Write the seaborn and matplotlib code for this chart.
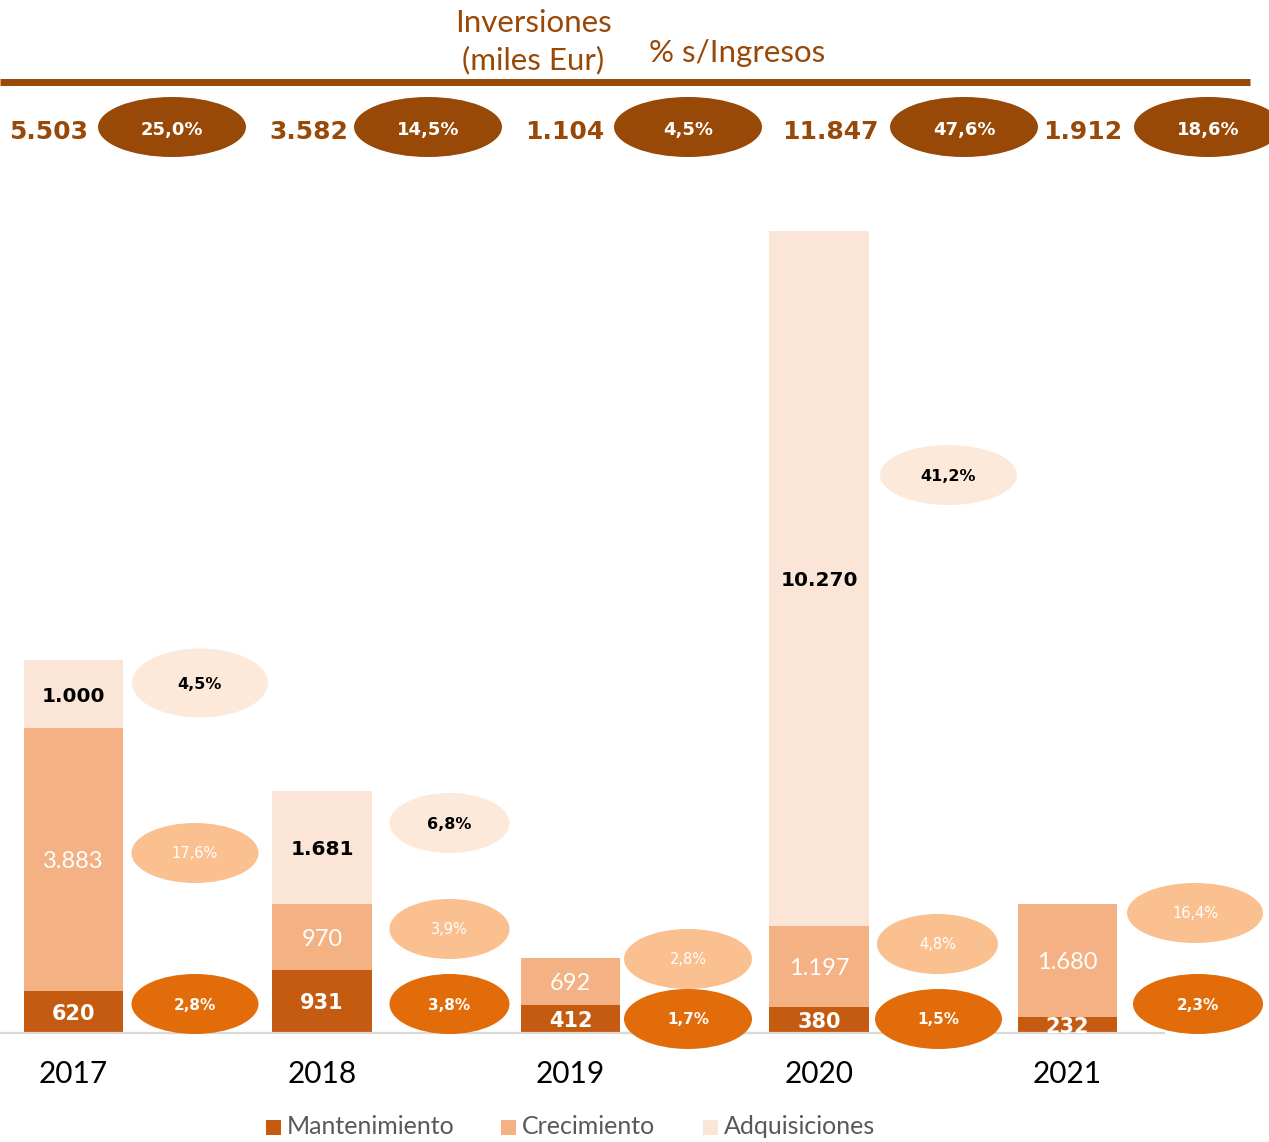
import matplotlib
matplotlib.use("Agg")
import matplotlib.pyplot as plt
import seaborn as sns
import pandas as pd
from matplotlib.patches import Ellipse, Rectangle
from matplotlib.lines import Line2D
from matplotlib import font_manager as fm

# ---------------- data ----------------
years = ["2017", "2018", "2019", "2020", "2021"]
mantenimiento = [620, 931, 412, 380, 232]
crecimiento = [3883, 970, 692, 1197, 1680]
adquisiciones = [1000, 1681, 0, 10270, 0]
pct_total = [25.0, 14.5, 4.5, 47.6, 18.6]
pct_mant = [2.8, 3.8, 1.7, 1.5, 2.3]
pct_crec = [17.6, 3.9, 2.8, 4.8, 16.4]
pct_adq = [4.5, 6.8, None, 41.2, None]
series_names = ["Mantenimiento", "Crecimiento", "Adquisiciones"]
header_left = ["Inversiones", "(miles Eur)"]
header_right = "% s/Ingresos"

# ---------------- styles ----------------
C_MANT, C_CREC, C_ADQ = "#C55A11", "#F4B183", "#FBE5D6"
E_MANT, E_CREC, E_ADQ = "#E36C0A", "#FAC090", "#FDE9D9"
BROWN = "#984807"
LEG_GREY = "#595959"

sns.set_theme(style="white")


def has_font(name):
    try:
        fm.findfont(fm.FontProperties(family=name), fallback_to_default=False)
        return True
    except Exception:
        return False


NARROW = "Lato" if has_font("Lato") else "DejaVu Sans"
WIDE = "DejaVu Sans"
plt.rcParams["font.family"] = [WIDE]


def fmt_int(v):
    return f"{v:,}".replace(",", ".")


def fmt_pct(v):
    return f"{v:.1f}%".replace(".", ",")


# ---------------- geometry (pixels) ----------------
W, H = 1269, 1142
X0, PX = 73.5, 248.5          # px of first category, px per category
Y0 = 1033                     # baseline px
PY = 802 / 11847              # px per value unit


def dx(px):
    return (px - X0) / PX


def dy(py):
    return (Y0 - py) / PY


def vpx(v):
    return Y0 - v * PY


def ptpx(size):
    return size * 100 / 72


fig = plt.figure(figsize=(W / 100, H / 100), dpi=100)
ax = fig.add_axes([0, 0, 1, 1])

df = pd.DataFrame({"year": years, "mant": mantenimiento,
                   "crec": crecimiento, "adq": adquisiciones})
df["mc"] = df["mant"] + df["crec"]
df["tot"] = df["mc"] + df["adq"]

for col, colr in [("tot", C_ADQ), ("mc", C_CREC), ("mant", C_MANT)]:
    sns.barplot(data=df, x="year", y=col, color=colr, width=0.4,
                saturation=1, errorbar=None, linewidth=0, ax=ax)

ax.set_xlim(dx(0), dx(W))
ax.set_ylim(dy(H), dy(0))
ax.axis("off")


def label(xd, ypx, s, size, color, weight="normal", family=WIDE, ha="center"):
    base = ypx + 0.36 * ptpx(size)
    ax.text(xd, dy(base), s, fontsize=size, color=color, weight=weight,
            family=family, ha=ha, va="baseline", clip_on=False, zorder=6)


# baseline
ax.plot([dx(0), dx(1165)], [0, 0], color="#D9D9D9", lw=1.6, zorder=1,
        solid_capstyle="butt")

# segment labels
for i in range(len(years)):
    m, c, a = mantenimiento[i], crecimiento[i], adquisiciones[i]
    label(i, vpx(m / 2), fmt_int(m), 15, "white", "bold")
    label(i, vpx(m + c / 2), fmt_int(c), 17, "white", "normal", NARROW)
    if a > 0:
        label(i, vpx(m + c + a / 2), fmt_int(a), 14.5, "black", "bold")

# ellipse layout: (x offset px from bar centre, y centre px, width px, height px)
ell_mant = [(121.5, 1004, 127, 60), (127.5, 1004, 120, 60), (117.5, 1019, 128, 60),
            (119.5, 1019, 127, 60), (130.5, 1004, 130, 60)]
ell_crec = [(121.5, 853, 127, 60), (127.5, 929, 120, 60), (117.5, 959, 128, 60),
            (118.5, 944, 121, 60), (127.5, 913, 136, 60)]
ell_adq = [(126.5, 683, 136, 69), (127.5, 823, 120, 60), None,
           (129.5, 475, 137, 60), None]


def ellipse(xd, ypx, wpx, hpx, fc):
    ax.add_patch(Ellipse((xd, dy(ypx)), wpx / PX, hpx / PY, facecolor=fc,
                         edgecolor="none", zorder=5, clip_on=False))


for i in range(len(years)):
    ox, oy, ew, eh = ell_crec[i]
    ellipse(i + ox / PX, oy, ew, eh, E_CREC)
    label(i + ox / PX, oy, fmt_pct(pct_crec[i]), 10.5, "white", "normal")
    ox, oy, ew, eh = ell_mant[i]
    ellipse(i + ox / PX, oy, ew, eh, E_MANT)
    label(i + ox / PX, oy, fmt_pct(pct_mant[i]), 11, "white", "bold")
    if pct_adq[i] is not None and ell_adq[i] is not None:
        ox, oy, ew, eh = ell_adq[i]
        ellipse(i + ox / PX, oy, ew, eh, E_ADQ)
        label(i + ox / PX, oy, fmt_pct(pct_adq[i]), 11.5, "black", "bold")

# year labels
for i, y in enumerate(years):
    label(i, 1072.5, y, 21.5, "black", "normal", NARROW)

# ---------------- header ----------------
fig.add_artist(Line2D([0, 1250 / W], [1 - 82 / H, 1 - 82 / H], color=BROWN,
                      lw=5, solid_capstyle="butt"))
label(dx(534), 21, header_left[0], 22.5, BROWN, "normal", NARROW)
label(dx(533), 58, header_left[1], 22.5, BROWN, "normal", NARROW)
label(dx(737), 51, header_right, 22.5, BROWN, "normal", NARROW)

tot_right = [88, 348, 604, 879, 1122]
tot_ell = [172, 428, 688, 964, 1208]
for i in range(len(years)):
    total = int(df["tot"][i])
    label(dx(tot_right[i]), 130, fmt_int(total), 18, BROWN, "bold", WIDE, ha="right")
    ellipse(dx(tot_ell[i]), 127, 148, 60, BROWN)
    label(dx(tot_ell[i]), 128, fmt_pct(pct_total[i]), 13, "white", "bold")

# ---------------- legend ----------------
leg_marker_x = [266, 501, 703]
leg_colors = [C_MANT, C_CREC, C_ADQ]
for name, mx, colr in zip(series_names, leg_marker_x, leg_colors):
    ax.add_patch(Rectangle((dx(mx), dy(1135)), 15 / PX, 15 / PY, facecolor=colr,
                           edgecolor="none", clip_on=False, zorder=6))
    ax.text(dx(mx + 21), dy(1134), name, fontsize=18, color=LEG_GREY,
            family=NARROW, ha="left", va="baseline", clip_on=False)

fig.savefig("out.png", dpi=100, facecolor="white")
